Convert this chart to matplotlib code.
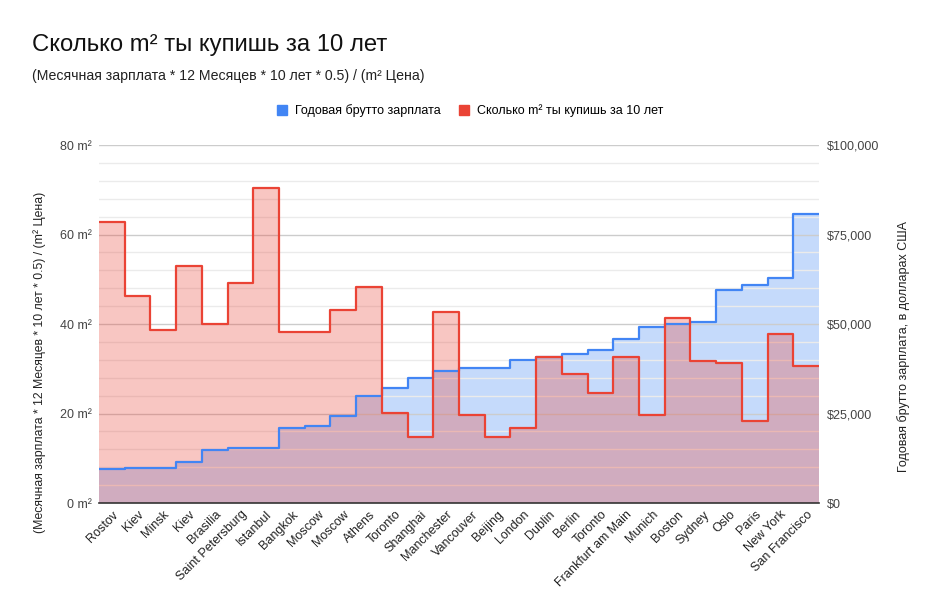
import matplotlib
matplotlib.use("Agg")
import matplotlib.pyplot as plt
import numpy as np
from matplotlib.ticker import FuncFormatter, MultipleLocator
from matplotlib.patches import Patch

plt.rcParams['font.family'] = ['Liberation Sans', 'DejaVu Sans']

cities = ["Rostov", "Kiev", "Minsk", "Kiev", "Brasilia", "Saint Petersburg", "Istanbul",
          "Bangkok", "Moscow", "Moscow", "Athens", "Toronto", "Shanghai", "Manchester",
          "Vancouver", "Beijing", "London", "Dublin", "Berlin", "Toronto",
          "Frankfurt am Main", "Munich", "Boston", "Sydney", "Oslo", "Paris",
          "New York", "San Francisco"]

sqm_10y = [62.9, 46.3, 38.7, 52.9, 39.9, 49.2, 70.4, 38.3, 38.3, 43.1, 48.2, 20.1, 14.8,
           42.6, 19.7, 14.7, 16.7, 32.6, 28.9, 24.6, 32.6, 19.7, 41.3, 31.7, 31.3, 18.3,
           37.8, 30.7]

salary = [9600, 9800, 9800, 11400, 14800, 15400, 15400, 20900, 21500, 24200, 29800,
          32100, 34800, 37000, 37800, 37800, 39900, 40800, 41500, 42800, 45800, 49200,
          49900, 50600, 59600, 60900, 62900, 80800]

title = "Сколько m² ты купишь за 10 лет"
subtitle = "(Месячная зарплата * 12 Месяцев * 10 лет * 0.5) / (m² Цена)"
left_label = "(Месячная зарплата * 12 Месяцев * 10 лет * 0.5) / (m² Цена)"
right_label = "Годовая брутто зарплата, в долларах США"
legend_blue = "Годовая брутто зарплата"
legend_red = "Сколько m² ты купишь за 10 лет"

BLUE = "#4285F4"
RED = "#EA4335"

fig = plt.figure(figsize=(9.4, 6.15), dpi=100)
ax = fig.add_axes([0.1053, 0.1821, 0.7660, 0.5821])
ax2 = ax.twinx()
ax.set_zorder(ax2.get_zorder() + 1)
ax.patch.set_visible(False)

n = len(cities)
edges = np.arange(n + 1)

# scales
ax2.set_ylim(0, 100000)
ax.set_ylim(0, 80)
ax.set_xlim(0, n)

# blue fill (bottom axes, right scale)
ax2.stairs(salary, edges, baseline=0, fill=True, color=BLUE, alpha=0.3, linewidth=0)
# red fill (top axes, left scale)
ax.stairs(sqm_10y, edges, baseline=0, fill=True, color=RED, alpha=0.3, linewidth=0, zorder=2)
# lines on top of both fills
ax.stairs(salary, edges, baseline=None, color=BLUE, linewidth=1.6, joinstyle='round',
          transform=ax2.transData, zorder=3)
ax.stairs(sqm_10y, edges, baseline=None, color=RED, linewidth=1.6, joinstyle='round', zorder=4)

ax2.yaxis.set_major_locator(MultipleLocator(25000))
ax2.yaxis.set_major_formatter(FuncFormatter(lambda v, p: f"${int(v):,}"))
ax.yaxis.set_major_locator(MultipleLocator(20))
ax.yaxis.set_minor_locator(MultipleLocator(4))
ax.yaxis.set_major_formatter(FuncFormatter(lambda v, p: f"{int(v)} m²"))

ax.grid(which='major', axis='y', color='#cccccc', linewidth=1, zorder=1)
ax.grid(which='minor', axis='y', color='#ebebeb', linewidth=1, zorder=1)
ax.set_axisbelow(True)

for a in (ax, ax2):
    for s in ['top', 'left', 'right', 'bottom']:
        a.spines[s].set_visible(False)
    a.tick_params(axis='both', which='both', length=0, labelsize=9, colors='#444444')

ax.set_xticks(edges[:-1] + 0.5)
ax.set_xticklabels(cities, rotation=45, ha='right', va='top', rotation_mode='anchor',
                   fontsize=9, color='#222222')

ax.spines['bottom'].set_visible(True)
ax.spines['bottom'].set_color('#333333')
ax.spines['bottom'].set_linewidth(1.2)
ax.spines['bottom'].set_zorder(5)
ax.tick_params(axis='y', pad=5)
ax2.tick_params(axis='y', pad=6)
ax.tick_params(axis='x', pad=4, labelcolor='#222222')

ax.set_ylabel(left_label, fontsize=8.8, color='#222222', labelpad=10)
ax2.set_ylabel(right_label, fontsize=9, color='#222222', labelpad=12.5)
ax.yaxis.label.set_y(0.394)
ax2.yaxis.label.set_y(0.436)

fig.text(32 / 940, 1 - 45 / 615, title, fontsize=17.2, color='#111111', va='center', ha='left')
fig.text(32 / 940, 1 - 76 / 615, subtitle, fontsize=10.2, color='#222222', va='center', ha='left')

handles = [Patch(facecolor=BLUE, edgecolor=BLUE), Patch(facecolor=RED, edgecolor=RED)]
fig.legend(handles, [legend_blue, legend_red], loc='center', bbox_to_anchor=(470 / 940, 1 - 111 / 615),
           ncol=2, frameon=False, fontsize=9, handlelength=0.8, handleheight=0.8,
           handletextpad=0.6, columnspacing=1.5)

fig.savefig("out.png", dpi=100)
